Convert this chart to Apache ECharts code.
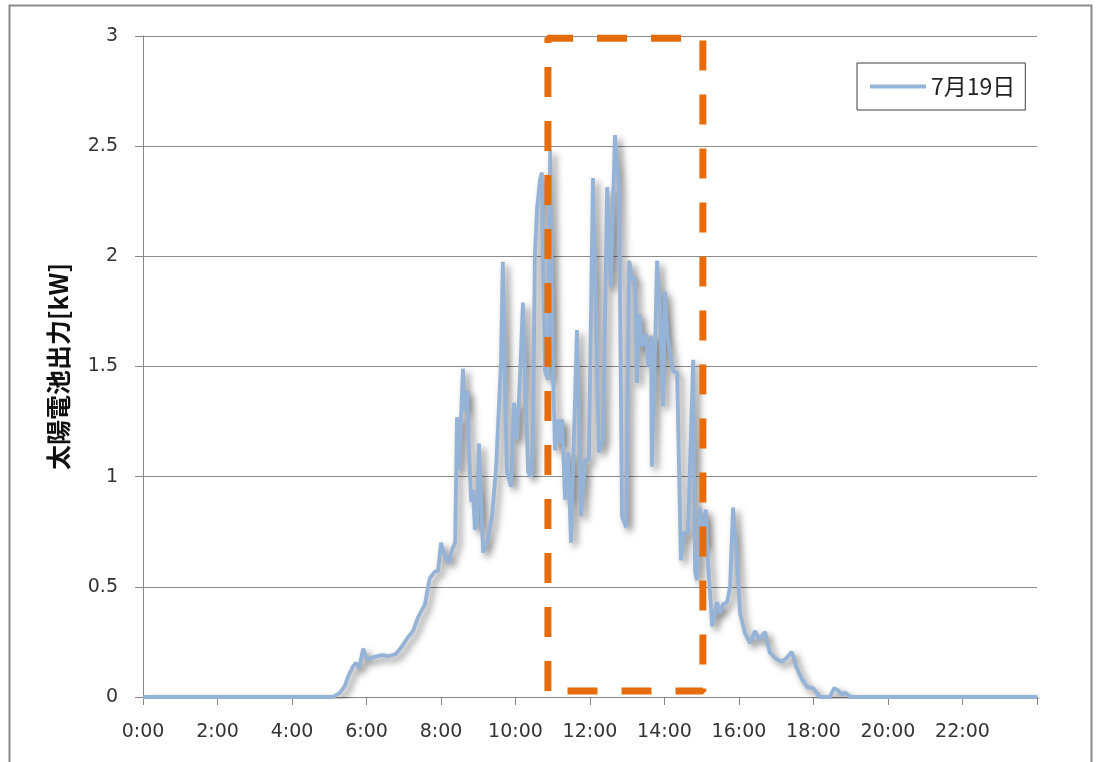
<!DOCTYPE html>
<html>
<head>
<meta charset="utf-8">
<script src="https://cdn.jsdelivr.net/npm/echarts@6/dist/echarts.min.js"></script>
<style>
html,body{margin:0;padding:0;background:#fff;}
#chart{width:1096px;height:762px;}
</style>
</head>
<body>
<div id="chart"></div>
<script>
// time of day in hours
const hours = [0, 5.10, 5.29, 5.42, 5.50, 5.64, 5.72, 5.80, 5.91, 6.01, 6.17, 6.42, 6.58, 6.79, 6.95, 7.11, 7.25, 7.38, 7.49, 7.57, 7.62, 7.70, 7.84, 7.92, 8.00, 8.11, 8.21, 8.30, 8.38,
  8.43, 8.48, 8.54, 8.59, 8.64, 8.70, 8.75, 8.81, 8.86, 8.91, 8.97, 9.02, 9.13, 9.23, 9.37, 9.48, 9.53, 9.61, 9.66, 9.72, 9.77, 9.88, 9.96,
  10.04, 10.12, 10.20, 10.28, 10.34, 10.42, 10.47, 10.52, 10.58, 10.66, 10.71, 10.74, 10.79, 10.87, 10.93, 11.01, 11.06, 11.14, 11.19, 11.25, 11.33, 11.41, 11.49, 11.54,
  11.65, 11.76, 11.87, 11.97, 12.08, 12.24, 12.35, 12.46, 12.56, 12.67, 12.78, 12.86, 12.97, 13.05, 13.15, 13.21, 13.26, 13.32, 13.40, 13.50, 13.56, 13.64, 13.66, 13.72,
  13.80, 13.88, 13.96, 14.01, 14.07, 14.17, 14.23, 14.34, 14.44, 14.52, 14.63, 14.77, 14.82, 14.87, 14.95, 15.03, 15.11, 15.17, 15.28, 15.41, 15.49, 15.57, 15.68, 15.76,
  15.84, 15.95, 16.03, 16.16, 16.30, 16.43, 16.54, 16.70, 16.83, 17.02, 17.15, 17.29, 17.42, 17.53, 17.69, 17.83, 17.99, 18.17, 18.44, 18.55, 18.66, 18.77, 18.85, 18.98, 24];
// PV output in kW
const outputKW = [0, 0, 0.02, 0.05, 0.09, 0.14, 0.155, 0.13, 0.22, 0.17, 0.18, 0.19, 0.185, 0.195, 0.23, 0.27, 0.30, 0.36, 0.395, 0.42, 0.47, 0.54, 0.57, 0.57, 0.70, 0.635, 0.61, 0.67, 0.70,
  1.27, 1.03, 1.28, 1.49, 1.30, 1.39, 1.12, 0.885, 0.94, 0.76, 0.79, 1.15, 0.655, 0.70, 0.82, 1.045, 1.05, 1.52, 1.975, 1.40, 1.02, 0.955, 1.335,
  1.17, 1.45, 1.79, 1.32, 1.02, 1.0, 1.2, 2.0, 2.22, 2.35, 2.38, 2.0, 1.48, 1.44, 2.48, 1.47, 1.12, 1.26, 1.15, 1.26, 0.895, 1.11, 0.70, 0.70,
  1.665, 0.82, 1.075, 1.075, 2.355, 1.11, 1.17, 2.315, 1.86, 2.55, 2.30, 0.82, 0.77, 1.98, 1.89, 1.905, 1.425, 1.74, 1.59, 1.65, 1.50, 1.64, 1.045, 1.38,
  1.98, 1.77, 1.32, 1.84, 1.65, 1.54, 1.48, 1.47, 0.62, 0.745, 0.745, 1.53, 0.57, 0.53, 0.86, 0.68, 0.85, 0.61, 0.32, 0.43, 0.38, 0.42, 0.43, 0.50,
  0.86, 0.61, 0.38, 0.29, 0.245, 0.30, 0.26, 0.295, 0.20, 0.17, 0.16, 0.18, 0.205, 0.14, 0.08, 0.045, 0.04, 0, 0, 0.04, 0.03, 0.01, 0.02, 0, 0];
// highlighted window (dashed rectangle corners)
const rectHours = [10.87, 10.87, 15.03, 15.03, 10.87];
const rectKW = [0.027, 2.99, 2.99, 0.027, 0.027];
// axis ticks
const xTicks = [0, 2, 4, 6, 8, 10, 12, 14, 16, 18, 20, 22];
const seriesName = '7月19日';
const yAxisName = '太陽電池出力[kW]';

const lineData = hours.map((h, i) => [h, outputKW[i]]);
const rectData = rectHours.map((h, i) => [h, rectKW[i]]);

const chart = echarts.init(document.getElementById('chart'));
chart.setOption({
  animation: false,
  backgroundColor: '#fff',
  graphic: [{
    type: 'rect', left: 7, top: 3, silent: true,
    shape: { width: 1082, height: 800 },
    style: { fill: 'none', stroke: '#8a8a8a', lineWidth: 2 }
  }],
  grid: { left: 143, right: 59, top: 36, bottom: 65 },
  legend: {
    data: [{ name: seriesName, icon: 'path://M0,0 L56,0 L56,4 L0,4 Z' }],
    left: 857, top: 63,
    padding: [12, 10, 12, 13],
    borderColor: '#404040', borderWidth: 1,
    itemWidth: 56, itemHeight: 4, itemGap: 4,
    textStyle: { fontFamily: 'Noto Sans CJK JP', fontSize: 23, color: '#222' }
  },
  xAxis: {
    type: 'value', min: 0, max: 24, interval: 2,
    axisLine: { show: true, lineStyle: { color: '#868686', width: 1 } },
    axisTick: { show: true, length: 8, lineStyle: { color: '#868686' } },
    splitLine: { show: false },
    axisLabel: {
      margin: 26, fontFamily: 'DejaVu Sans', fontSize: 19, color: '#333',
      formatter: v => xTicks.indexOf(v) >= 0 ? v + ':00' : ''
    }
  },
  yAxis: {
    type: 'value', min: 0, max: 3, interval: 0.5,
    name: yAxisName, nameLocation: 'middle', nameGap: 72, nameRotate: 90,
    nameTextStyle: { fontFamily: 'Noto Sans CJK JP', fontWeight: 'bold', fontSize: 25, color: '#111' },
    axisLine: { show: true, lineStyle: { color: '#868686', width: 1 } },
    axisTick: { show: true, length: 8, lineStyle: { color: '#868686' } },
    splitLine: { show: true, lineStyle: { color: '#8c8c8c', width: 1 } },
    axisLabel: { margin: 25, fontFamily: 'DejaVu Sans', fontSize: 19, color: '#333' }
  },
  series: [{
    name: seriesName, type: 'line', data: lineData,
    symbol: 'none', z: 2,
    color: '#95B3D7',
    lineStyle: {
      color: '#95B3D7', width: 3.8,
      shadowColor: 'rgba(0,0,0,0.5)', shadowBlur: 7, shadowOffsetX: 4, shadowOffsetY: 4
    }
  }, {
    name: 'rect', type: 'line', data: rectData,
    symbol: 'none', z: 5, silent: true,
    lineStyle: { color: '#E46C0A', width: 7, type: [30, 24], cap: 'butt' }
  }]
});
</script>
</body>
</html>
